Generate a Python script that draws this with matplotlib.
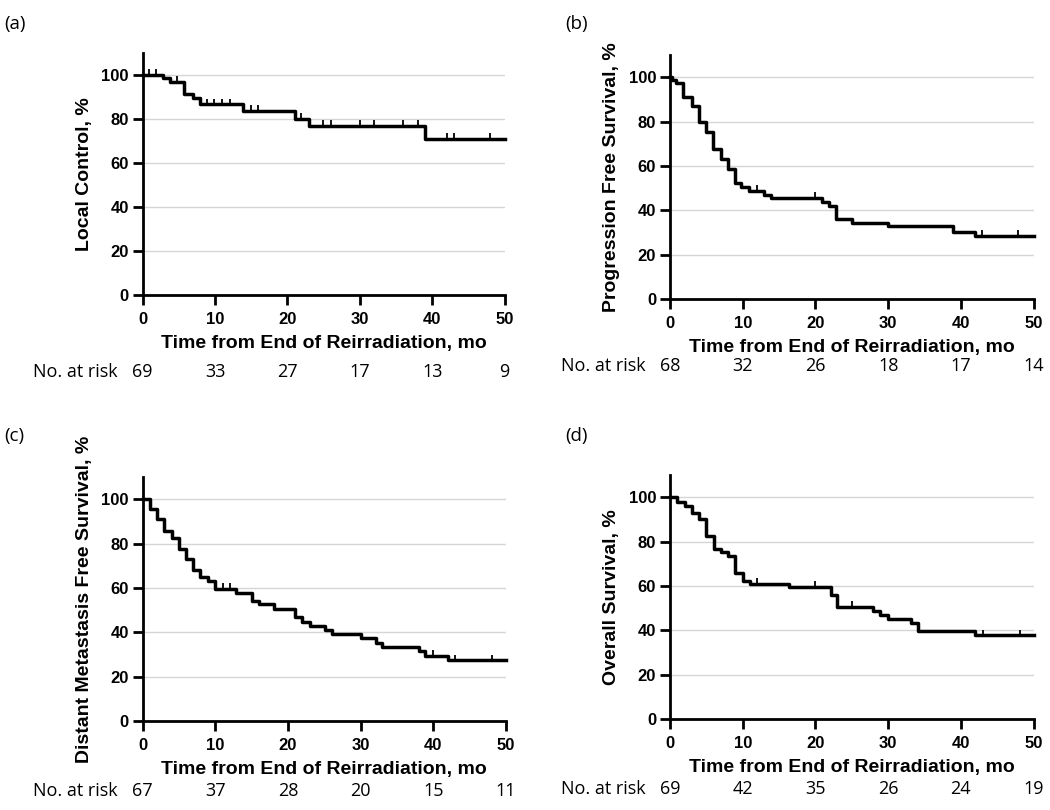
import numpy as np
import matplotlib.pyplot as plt

# Kaplan-Meier steps (months, %)
months_a = [0, 2.85, 3.8, 5.75, 7.0, 7.85, 13.9, 21.0, 23.0, 39.0]
surv_a = [100, 98.6, 97.0, 91.3, 89.4, 86.7, 83.6, 80.2, 76.9, 71.0]
censor_a = [0.9, 1.8, 4.7, 8.9, 9.9, 11.0, 12.0, 14.9, 16.0, 21.9,
            24.9, 26.0, 30.0, 32.0, 36.0, 38.0, 42.0, 43.0, 48.0]

months_b = [0, 0.3, 0.8, 1.8, 3.0, 4.0, 5.0, 5.95, 6.95, 8.0, 8.9, 9.8,
            10.9, 12.9, 13.9, 20.9, 21.9, 22.9, 25.0, 30.0, 38.9, 41.9]
surv_b = [100, 98.9, 97.4, 90.9, 86.8, 79.6, 75.3, 67.5, 62.9, 58.7, 52.1, 50.6,
          48.9, 47.1, 45.6, 43.6, 41.8, 36.0, 34.2, 32.7, 30.4, 28.6]
censor_b = [11.9, 19.9, 42.95, 47.9]

months_c = [0, 1.0, 1.9, 2.9, 4.0, 5.0, 5.96, 6.96, 7.9, 9.0, 9.9, 12.9, 15.0,
            16.0, 18.1, 20.9, 21.9, 23.0, 25.1, 26.0, 30.0, 32.1, 33.0, 38.0,
            38.9, 42.0]
surv_c = [100, 95.8, 91.2, 85.6, 82.3, 77.7, 73.0, 68.2, 64.8, 63.2, 59.7, 57.9,
          54.2, 52.6, 50.5, 46.7, 44.7, 42.9, 40.9, 39.1, 37.4, 35.3, 33.3, 31.4,
          29.2, 27.3]
censor_c = [11.0, 12.0, 40.0, 43.05, 48.1]

months_d = [0, 1.0, 2.0, 3.0, 4.0, 5.0, 6.0, 7.0, 8.0, 9.0, 10.0, 11.0, 16.3,
            22.1, 23.0, 27.9, 28.9, 30.0, 33.2, 34.1, 42.0]
surv_d = [100, 97.9, 95.8, 92.7, 90.0, 82.4, 76.7, 75.1, 73.6, 66.0, 62.4, 60.9,
          59.4, 55.9, 50.6, 48.8, 46.8, 45.0, 43.3, 39.7, 37.7]
censor_d = [12.0, 20.0, 25.0, 43.0, 48.1]

risk_times = [0, 10, 20, 30, 40, 50]
risk_a = [69, 33, 27, 17, 13, 9]
risk_b = [68, 32, 26, 18, 17, 14]
risk_c = [67, 37, 28, 20, 15, 11]
risk_d = [69, 42, 35, 26, 24, 19]

ylabels = ["Local Control, %", "Progression Free Survival, %",
           "Distant Metastasis Free Survival, %", "Overall Survival, %"]
panel_tags = ["(a)", "(b)", "(c)", "(d)"]
xlabel = "Time from End of Reirradiation, mo"

plt.rcParams["font.family"] = ["Liberation Sans", "DejaVu Sans"]
label_font = ["Open Sans", "DejaVu Sans"]

fig = plt.figure(figsize=(10.5, 8.1), dpi=100)

rects = [
    [0.1359, 0.6358, 0.3446, 0.2988],
    [0.6381, 0.6309, 0.3462, 0.3012],
    [0.1359, 0.1099, 0.3460, 0.3012],
    [0.6381, 0.1123, 0.3462, 0.3013],
]
risk_rows = [-35, -30, -31.4, -31.4]
tag_pos = [(0.004, 0.982), (0.538, 0.982), (0.004, 0.473), (0.538, 0.473)]

data = [
    (months_a, surv_a, censor_a, risk_a),
    (months_b, surv_b, censor_b, risk_b),
    (months_c, surv_c, censor_c, risk_c),
    (months_d, surv_d, censor_d, risk_d),
]

for i, (times, surv, cens, risk) in enumerate(data):
    ax = fig.add_axes(rects[i])

    t = list(times) + [50]
    s = list(surv) + [surv[-1]]
    ax.step(t, s, where="post", color="black", lw=2.5, clip_on=False, zorder=3)

    # censor marks sit on the curve level at that time
    idx = np.searchsorted(times, cens, side="right") - 1
    lev = np.array(surv)[idx]
    ax.vlines(cens, lev, lev + 2.6, color="black", lw=1.3, zorder=3)

    for y in range(20, 101, 20):
        ax.axhline(y, color="#d6d6d6", lw=1.0, zorder=0)

    ax.set_xlim(0, 50)
    ax.set_ylim(0, 110)
    ax.set_xticks(range(0, 51, 10))
    ax.set_yticks(range(0, 101, 20))
    ax.spines["top"].set_visible(False)
    ax.spines["right"].set_visible(False)
    ax.spines["left"].set_linewidth(2)
    ax.spines["bottom"].set_linewidth(2)
    ax.tick_params(width=2, length=7, labelsize=12)
    ax.tick_params(axis="x", pad=5)
    ax.tick_params(axis="y", pad=3)
    for lab in ax.get_xticklabels() + ax.get_yticklabels():
        lab.set_fontweight("bold")

    ax.set_xlabel(xlabel, fontsize=14, fontweight="bold", labelpad=6)
    ax.set_ylabel(ylabels[i], fontsize=14, fontweight="bold", labelpad=6)

    # number at risk row
    ry = risk_rows[i]
    ax.text(-3.4, ry, "No. at risk", ha="right", va="center", fontsize=13,
            family=label_font, clip_on=False)
    for x, n in zip(risk_times, risk):
        ax.text(x, ry, str(n), ha="center", va="center", fontsize=13,
                family=label_font, clip_on=False)

    fig.text(tag_pos[i][0], tag_pos[i][1], panel_tags[i], ha="left", va="top",
             fontsize=13.5, family=label_font)

fig.savefig("out.png", dpi=100)
